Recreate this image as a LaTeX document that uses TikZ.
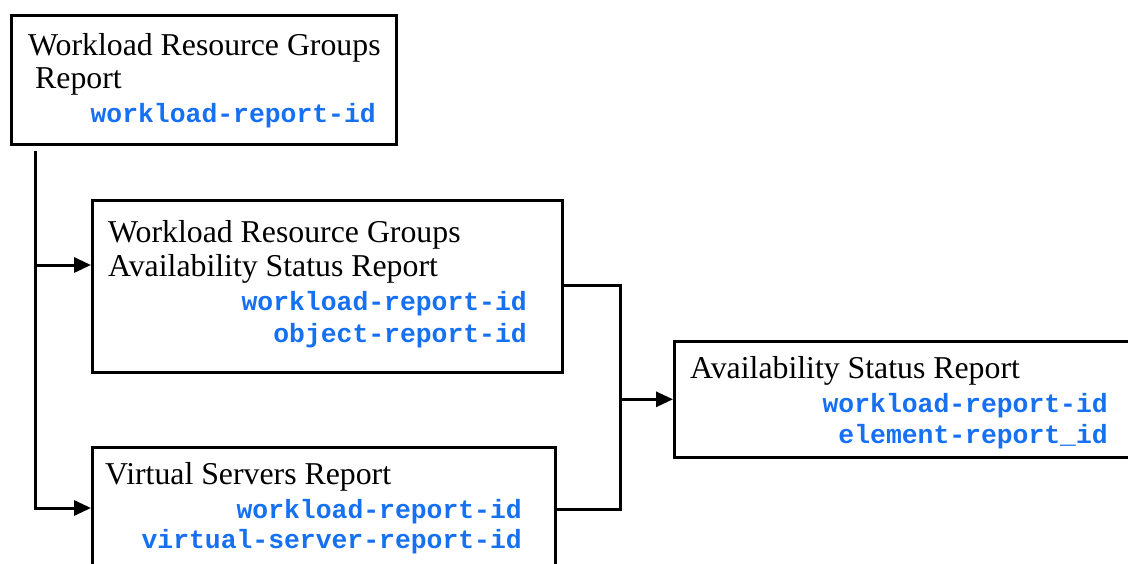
\documentclass[tikz,border=0pt]{standalone}
\usepackage{fontspec}
\setmainfont{Liberation Serif}
\newfontfamily\idfamily{Liberation Mono}
\usetikzlibrary{arrows.meta,calc}
\definecolor{idblue}{RGB}{22,112,242}
\tikzset{
  box/.style={draw=black, line width=2.6pt, fill=white, rectangle, inner sep=0pt, anchor=north west},
  title/.style={inner sep=0pt, anchor=base west, font=\fontsize{31.8}{38}\selectfont},
  idtext/.style={inner sep=0pt, anchor=base east, text=idblue, font=\idfamily\bfseries\fontsize{26.4}{32}\selectfont},
  link/.style={draw=black, line width=3pt},
  arrow/.style={link, -{Triangle[length=17pt,width=15pt]}}
}
\begin{document}
\begin{tikzpicture}[x=1pt,y=-1pt]
\clip (0,0) rectangle (1128,563);
\fill[white] (0,0) rectangle (1128,563);

% report boxes
\node[box, minimum width=385pt, minimum height=129pt] (A) at (10,14) {};
\node[box, minimum width=470pt, minimum height=172pt] (B) at (91,199) {};
\node[box, minimum width=463pt, minimum height=130pt] (C) at (91,446) {};
\node[box, minimum width=457pt, minimum height=116pt] (D) at (673,340) {};

% box texts
\node[title] (a1) at (28,55) {Workload Resource Groups};
\node[title] (a2) at (35,88) {Report};
\node[idtext] (a3) at (376,122) {workload-report-id};

\node[title] (b1) at (108,242) {Workload Resource Groups};
\node[title] (b2) at (108,276) {Availability Status Report};
\node[idtext] (b3) at (527,310) {workload-report-id};
\node[idtext] (b4) at (527,342) {object-report-id};

\node[title] (c1) at (105,484) {Virtual Servers Report};
\node[idtext] (c2) at (522,518) {workload-report-id};
\node[idtext] (c3) at (522,548) {virtual-server-report-id};

\node[title] (d1) at (690,378) {Availability Status Report};
\node[idtext] (d2) at (1108,412) {workload-report-id};
\node[idtext] (d3) at (1108,443) {element-report\_id};

% connectors
\coordinate (t) at ($(A.south west)+(25,5)$);
\coordinate (bin) at ($(B.north west)+(0,66)$);
\coordinate (cin) at ($(C.north west)+(0,62)$);
\draw[arrow] (t) |- (cin);
\draw[arrow] (t |- bin) -- (bin);

\coordinate (bout) at ($(B.north east)+(0,86)$);
\coordinate (cout) at ($(C.north east)+(0,63)$);
\coordinate (m) at ($(bout)+(57,0)$);
\draw[link] (bout) -- (m) |- (cout);
\draw[arrow] (m |- D.west) -- (D.west);
\end{tikzpicture}
\end{document}
